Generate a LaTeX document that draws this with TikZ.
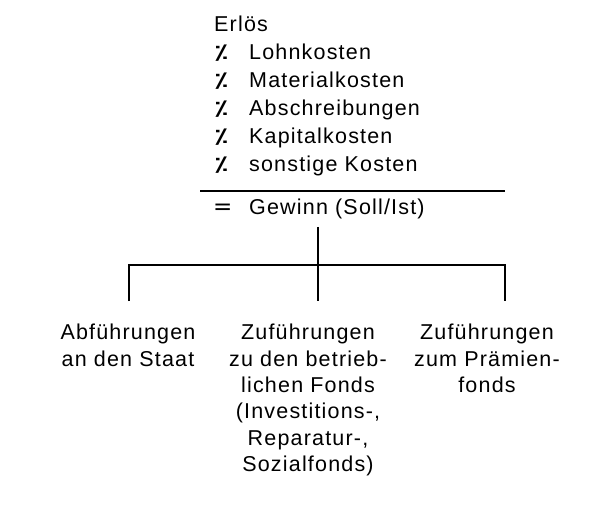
\documentclass[tikz,border=0pt]{standalone}
\usepackage{fontspec}
\usepackage{graphicx}
\setmainfont[LetterSpace=5.5]{Liberation Sans}
\newfontfamily\zeichen{DejaVu Sans}
\newcommand{\kminus}{\scalebox{1.7}[1]{\zeichen\fontsize{20}{20}\selectfont ⁒}}
\usetikzlibrary{positioning, calc}
\tikzset{
  every node/.append style={inner sep=0pt, font=\fontsize{21.5}{26.4}\selectfont},
  posten/.style={anchor=base west},
  ziel/.style={anchor=north, align=center},
  strich/.style={line width=1.8pt}
}

\begin{document}
\begin{tikzpicture}[x=1pt, y=-1pt]
  \useasboundingbox (0,0) rectangle (600,513);
  \node[posten] (erloes) at (214,32) {Erlös};
  % Kostenarten, je Zeile 28.1 tiefer
  \foreach \kn/\ktext [count=\kz] in {lohn/Lohnkosten, mat/Materialkosten,
      abschr/Abschreibungen, kap/Kapitalkosten, sonst/sonstige Kosten}
  { \node[posten] (m\kn) at (213,31+28.2*\kz) {\kminus};
    \node[posten] (\kn) at (249,31+28.2*\kz) {\ktext}; }
  \coordinate (sumL) at (200,191);
  \coordinate (sumR) at (505,191);
  \draw[strich] (sumL) -- (sumR);
  \node[posten, font=\zeichen\fontsize{23}{23}\selectfont] (gleich) at (213,215) {=};
  \node[posten] (gewinn) at (249,215) {Gewinn (Soll/Ist)};
  % Verteilung des Gewinns
  \coordinate (gab) at (318,227);
  \coordinate (knoten) at (318,265);
  \coordinate (jL) at (129,265);
  \coordinate (jR) at (505,265);
  \draw[strich] (gab) -- (knoten) -- ++(0,36);
  \draw[strich] (jL) ++(0,36) -- (jL) -- (jR) -- ++(0,36);
  \node[ziel] (staat) at (128,324) {Abführungen\\an den Staat};
  \node[ziel] (fonds) at (308,324) {Zuführungen\\zu den betrieb-\\lichen Fonds\\(Investitions-,\\Reparatur-,\\Sozialfonds)};
  \node[ziel] (praemie) at (487,324) {Zuführungen\\zum Prämien-\\fonds};
\end{tikzpicture}
\end{document}
